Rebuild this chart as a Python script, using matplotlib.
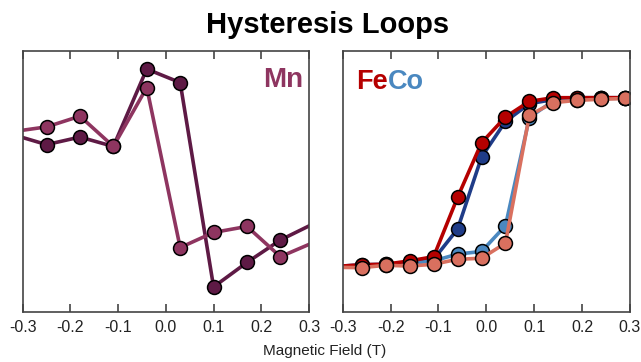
import matplotlib
matplotlib.use("Agg")
import matplotlib.pyplot as plt

plt.rcParams['font.family'] = ['Liberation Sans', 'DejaVu Sans']

# Mn loop (arbitrary units, 0..1 of the axis height)
mn_x = [-0.32, -0.25, -0.18, -0.11, -0.04, 0.03, 0.10, 0.17, 0.24, 0.31]
mn_up = [0.679, 0.641, 0.670, 0.634, 0.931, 0.879, 0.095, 0.189, 0.275, 0.338]
mn_down = [0.691, 0.709, 0.750, 0.634, 0.860, 0.246, 0.304, 0.327, 0.211, 0.266]

# FeCo loops
feco_x = [-0.31, -0.26, -0.21, -0.16, -0.11, -0.06, -0.01, 0.04, 0.09, 0.14, 0.19, 0.24, 0.29]
fe_up = [0.174, 0.180, 0.182, 0.195, 0.211, 0.439, 0.648, 0.747, 0.807, 0.821, 0.821, 0.821, 0.821]
co_up = [0.174, 0.180, 0.182, 0.188, 0.201, 0.317, 0.593, 0.730, 0.798, 0.814, 0.821, 0.821, 0.821]
co_down = [0.172, 0.176, 0.180, 0.185, 0.195, 0.221, 0.231, 0.330, 0.745, 0.809, 0.814, 0.818, 0.819]
fe_down = [0.170, 0.169, 0.178, 0.175, 0.182, 0.201, 0.205, 0.263, 0.754, 0.802, 0.811, 0.815, 0.818]

fig = plt.figure(figsize=(6.41, 3.62), dpi=100)
ax1 = fig.add_axes([0.0354, 0.1390, 0.4467, 0.7200])
ax2 = fig.add_axes([0.5346, 0.1390, 0.4482, 0.7200])

def style(ax):
    ax.set_xlim(-0.3, 0.3)
    ax.set_ylim(0, 1)
    ax.set_xticks([-0.3, -0.2, -0.1, 0.0, 0.1, 0.2, 0.3])
    ax.set_xticklabels(['-0.3', '-0.2', '-0.1', '0.0', '0.1', '0.2', '0.3'])
    ax.set_yticks([])
    ax.tick_params(axis='x', direction='in', top=True, length=6, width=1.2,
                   color='#444444', labelsize=11.5, pad=6, labelcolor='#222222')
    for s in ax.spines.values():
        s.set_color('#444444')
        s.set_linewidth(1.2)

def loop(ax, x, y, color, marks):
    ax.plot(x, y, color=color, lw=2.6, marker='o', markevery=marks,
            ms=10, mfc=color, mec='black', mew=1.1)

# first/last Mn points lie outside the window, only the line reaches the edge
loop(ax1, mn_x, mn_up, '#5e1a45', slice(1, -1))
loop(ax1, mn_x, mn_down, '#8e3560', slice(1, -1))
style(ax1)
ax1.text(0.288, 0.888, 'Mn', color='#8e3560', fontsize=20, fontweight='bold',
         ha='right', va='center')

loop(ax2, feco_x, co_up, '#1f3c88', slice(1, None))
loop(ax2, feco_x, co_down, '#4a88c0', slice(1, None))
loop(ax2, feco_x, fe_up, '#b50000', slice(1, None))
loop(ax2, feco_x, fe_down, '#d9705f', slice(1, None))
style(ax2)
t = ax2.text(-0.272, 0.883, 'Fe', color='#b50000', fontsize=19.5,
             fontweight='bold', ha='left', va='center')
ax2.annotate('Co', xycoords=t, xy=(1, 0.5), color='#4a88c0', fontsize=19.5,
             fontweight='bold', ha='left', va='center')

fig.text(0.511, 0.932, 'Hysteresis Loops', ha='center', va='center',
         fontsize=21, fontweight='bold')
fig.text(0.507, 0.03, 'Magnetic Field (T)', ha='center', va='center',
         fontsize=11, color='#222222')

fig.savefig('out.png', dpi=100)
